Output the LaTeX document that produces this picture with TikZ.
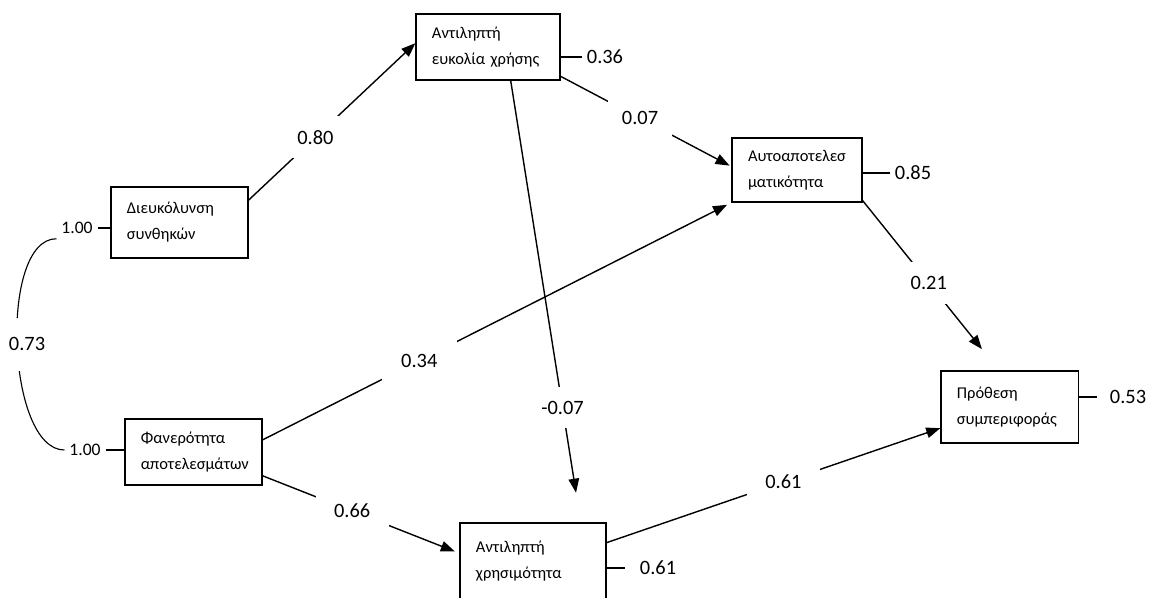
\documentclass[tikz,border=0pt]{standalone}
\usepackage{fontspec}
\setmainfont{Carlito}
\usetikzlibrary{arrows.meta}

\begin{document}
\begin{tikzpicture}[x=0.025cm, y=-0.025cm,
		var/.style={draw, line width=0.9pt, align=left, inner xsep=0.4cm, text width=2.63cm, font=\fontsize{11.7}{18.5}\selectfont},
		coef/.style={font=\fontsize{14.5}{17}\selectfont},
		one/.style={font=\fontsize{12.5}{15}\selectfont},
		gap/.style={coef, fill=white, inner sep=10pt},
		arr/.style={line width=1pt, -{Triangle[length=10pt, width=7.5pt]}}]
	\useasboundingbox (0, 0) rectangle (1154, 597);
	\node[var, minimum height=1.78cm] (dc) at (179.5, 222.5) {Διευκόλυνση\\συνθηκών};
	\node[var, minimum height=1.65cm] (fa) at (193.5, 452) {Φανερότητα\\αποτελεσμάτων};
	\node[var, minimum height=1.65cm, text width=2.8cm] (ee) at (488, 47) {Αντιληπτή\\ευκολία χρήσης};
	\node[var, minimum height=1.6cm, text width=2.45cm] (au) at (797, 170) {Αυτοαποτελεσ\\ματικότητα};
	\node[var, minimum height=1.8cm] (pr) at (1009.5, 407) {Πρόθεση\\συμπεριφοράς};
	\node[var, minimum height=1.9cm, text width=2.85cm] (xr) at (533, 561) {Αντιληπτή\\χρησιμότητα};
	\path[arr] (dc.18) edge node[gap, pos=0.4] {0.80} (ee.177)
		(ee.338) edge[shorten >=0.05cm] node[gap, pos=0.465] {0.07} (au.177)
		(ee.304) edge[shorten >=0.75cm] node[gap, pos=0.74] {-0.07} (xr.39)
		(fa.10) edge[shorten >=0.12cm] node[gap, pos=0.334, inner xsep=14pt] {0.34} (au.south west)
		(fa.341) edge[shorten >=0.12cm] node[gap, pos=0.455, inner xsep=13pt] {0.66} (xr.174)
		(xr.14) edge node[gap, pos=0.53, inner xsep=13pt] {0.61} (pr.197)
		(au.335) edge[shorten >=0.68cm] node[gap, pos=0.485] {0.21} (pr.106);
	% residuals
	\node[coef] (r36) at (605, 57) {0.36};
	\node[coef] (r85) at (913, 173) {0.85};
	\node[coef] (r53) at (1128, 397) {0.53};
	\node[coef] (r61) at (658, 568) {0.61};
	\path[line width=1pt] (r36.west -| ee.east) edge (r36.west)
		(r85.west -| au.east) edge (r85.west)
		(r53.west -| pr.east) edge ([xshift=-0.2cm]r53.west)
		(r61.west -| xr.east) edge ([xshift=-0.25cm]r61.west);
	% correlation
	\node[one] (one1) at (77, 228) {1.00};
	\node[one] (one2) at (85, 450) {1.00};
	\path[line width=1pt] (one1.east) edge (one1.east -| dc.west)
		(one2.east) edge (one2.east -| fa.west);
	\draw[line width=0.8pt] (one1.south west) to[out=180, in=180, looseness=0.7] node[coef, fill=white, inner ysep=14pt, xshift=0.25cm] {0.73} (one2.west);
\end{tikzpicture}
\end{document}
